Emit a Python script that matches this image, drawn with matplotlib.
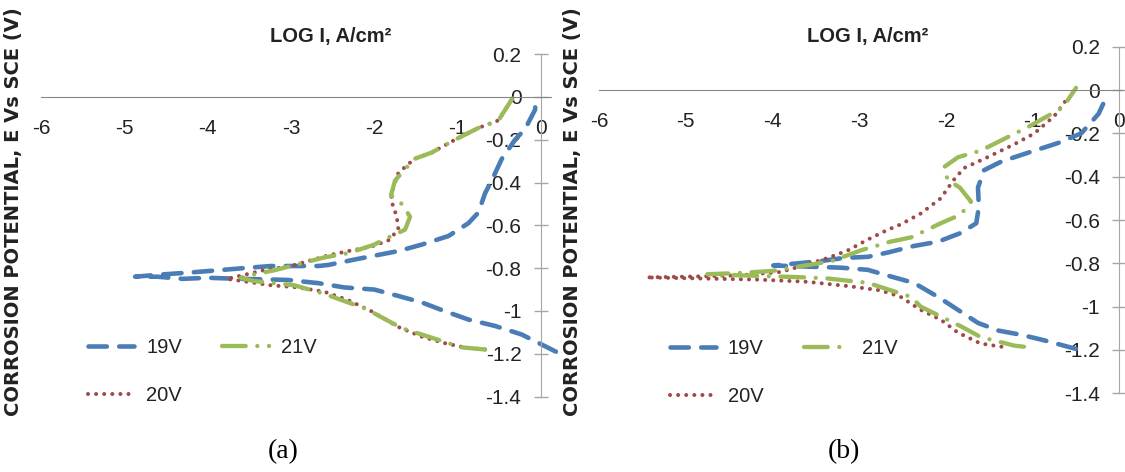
import matplotlib.pyplot as plt

# ---------------- data ----------------
# log I (A/cm2) and E vs SCE (V), each curve traced from the cathodic end
# (bottom right) through Ecorr to the anodic end (top right)

# panel (a)
a_19v_x = [0.18, -0.23, -0.55, -0.87, -1.16, -1.43, -1.71, -2.0, -2.36, -2.67, -3.04, -3.6, -4.0,
           -4.3, -4.6, -4.87, -4.57, -4.2, -3.88, -3.57, -3.24, -2.67, -2.55, -2.24, -1.71, -1.43,
           -1.11, -0.87, -0.75, -0.67, -0.59, -0.47, -0.31, -0.19, -0.07, -0.06]
a_19v_y = [-1.19, -1.11, -1.07, -1.04, -1.0, -0.96, -0.93, -0.90, -0.89, -0.87, -0.855, -0.85, -0.845,
           -0.85, -0.84, -0.84, -0.83, -0.82, -0.81, -0.80, -0.79, -0.79, -0.785, -0.76, -0.72, -0.69,
           -0.65, -0.59, -0.54, -0.45, -0.39, -0.29, -0.20, -0.15, -0.06, 0.0]

a_20v_x = [-0.67, -0.92, -1.16, -1.43, -1.71, -2.04, -2.31, -2.6, -2.92, -3.24, -3.5, -3.77, -3.6,
           -3.33, -3.0, -2.55, -2.31, -2.04, -1.83, -1.71, -1.73, -1.80, -1.77, -1.71, -1.52, -1.31,
           -1.03, -0.75, -0.51, -0.33]
a_20v_y = [-1.18, -1.17, -1.15, -1.12, -1.075, -1.0, -0.95, -0.91, -0.89, -0.88, -0.865, -0.85, -0.835,
           -0.81, -0.79, -0.74, -0.72, -0.70, -0.67, -0.62, -0.56, -0.48, -0.42, -0.355, -0.29, -0.26,
           -0.20, -0.145, -0.11, 0.0]

a_21v_x = [-0.67, -0.95, -1.35, -1.67, -2.1, -2.6, -2.96, -3.2, -3.45, -3.6, -3.45, -3.2, -3.0, -2.6,
           -2.31, -2.0, -1.85, -1.63, -1.57, -1.67, -1.80, -1.75, -1.52, -1.31, -1.03, -0.75, -0.51, -0.33]
a_21v_y = [-1.18, -1.17, -1.12, -1.08, -0.99, -0.92, -0.88, -0.87, -0.86, -0.845, -0.83, -0.81, -0.79,
           -0.75, -0.73, -0.69, -0.66, -0.62, -0.56, -0.50, -0.46, -0.39, -0.29, -0.26, -0.20, -0.145,
           -0.11, 0.0]

# panel (b)
b_19v_x = [-0.5, -0.87, -1.13, -1.40, -1.63, -1.86, -2.09, -2.37, -2.64, -2.9, -3.21, -3.6, -3.99,
           -3.71, -3.45, -3.18, -2.90, -2.67, -2.37, -2.09, -1.83, -1.65, -1.62, -1.63, -1.56, -1.36,
           -1.02, -0.71, -0.44, -0.24, -0.13]
b_19v_y = [-1.195, -1.155, -1.13, -1.11, -1.075, -1.015, -0.955, -0.89, -0.86, -0.83, -0.82, -0.815,
           -0.81, -0.80, -0.79, -0.775, -0.77, -0.75, -0.72, -0.70, -0.66, -0.615, -0.54, -0.45, -0.37,
           -0.33, -0.285, -0.245, -0.20, -0.11, -0.015]

b_20v_x = [-1.36, -1.60, -1.86, -2.06, -2.29, -2.52, -2.75, -3.13, -3.6, -4.17, -4.83, -5.45, -4.83,
           -4.37, -3.91, -3.64, -3.36, -3.13, -2.90, -2.67, -2.52, -2.29, -2.06, -1.91, -1.79, -1.52,
           -1.21, -0.98, -0.75, -0.62]
b_20v_y = [-1.185, -1.17, -1.12, -1.06, -1.015, -0.955, -0.925, -0.905, -0.885, -0.875, -0.87, -0.865,
           -0.86, -0.855, -0.84, -0.81, -0.775, -0.74, -0.69, -0.645, -0.62, -0.57, -0.50, -0.415, -0.36,
           -0.31, -0.25, -0.20, -0.12, -0.05]

b_21v_x = [-1.10, -1.21, -1.60, -1.83, -2.29, -2.40, -2.90, -3.36, -3.6, -4.0, -4.4, -4.75, -4.4, -4.0,
           -3.78, -3.32, -2.98, -2.64, -2.40, -2.06, -1.83, -1.71, -1.84, -1.98, -2.02, -1.86, -1.60,
           -1.05, -0.65, -0.5]
b_21v_y = [-1.185, -1.18, -1.14, -1.09, -1.0, -0.955, -0.89, -0.87, -0.865, -0.86, -0.855, -0.85,
           -0.845, -0.835, -0.82, -0.79, -0.74, -0.70, -0.68, -0.615, -0.575, -0.515, -0.45, -0.415,
           -0.355, -0.31, -0.28, -0.17, -0.08, 0.01]

x_ticks = [-6, -5, -4, -3, -2, -1, 0]
y_ticks = [0.2, 0, -0.2, -0.4, -0.6, -0.8, -1, -1.2, -1.4]
series_names = ['19V', '20V', '21V']

# ---------------- style ----------------
narrow = ['Liberation Sans', 'DejaVu Sans']
c_blue = '#4A7DB5'
c_red = '#9E4A48'
c_green = '#9BBB59'
style_19 = dict(color=c_blue, lw=3.3, linestyle=(0, (4.0, 2.7)), dash_capstyle='round')
style_20 = dict(color=c_red, lw=2.9, linestyle=(0, (0.01, 2.0)), dash_capstyle='round')
style_21 = dict(color=c_green, lw=3.1, linestyle=(0, (5.5, 2.7, 0.01, 2.7)), dash_capstyle='round')

fig = plt.figure(figsize=(11.25, 4.72), dpi=100)


def draw_panel(rect, xmax, data, title_x, ylab_x, cap_x, cap, leg_xy):
    ax = fig.add_axes(rect)
    ax.set_xlim(-6, xmax)
    ax.set_ylim(-1.4, 0.2)
    (x19, y19), (x20, y20), (x21, y21) = data
    l19, = ax.plot(x19, y19, clip_on=False, **style_19)
    l20, = ax.plot(x20, y20, clip_on=False, **style_20)
    l21, = ax.plot(x21, y21, clip_on=False, **style_21)

    # axes cross at (0, 0), like the Excel chart
    for s in ['top', 'right']:
        ax.spines[s].set_visible(False)
    ax.spines['left'].set_position(('data', 0))
    ax.spines['bottom'].set_position(('data', 0))
    ax.spines['left'].set_color('#a6a6a6')
    ax.spines['bottom'].set_color('#868686')
    ax.set_xticks(x_ticks)
    ax.set_xticklabels([str(v) for v in x_ticks], family=narrow, fontsize=15)
    ax.set_yticks(y_ticks)
    ax.set_yticklabels([f'{v:g}' for v in y_ticks], family=narrow, fontsize=15)
    ax.tick_params(axis='x', length=0, pad=16, colors='#222222')
    ax.tick_params(axis='y', direction='inout', length=10, width=1, pad=9,
                   color='#a6a6a6', labelcolor='#222222')

    leg = ax.legend([l19, l20, l21], series_names, ncol=2, loc='upper left',
                    bbox_to_anchor=leg_xy, frameon=False,
                    prop={'family': narrow, 'size': 14.5}, handlelength=2.3,
                    handletextpad=0.6, columnspacing=2.0, labelspacing=1.45,
                    borderpad=0, borderaxespad=0)
    for t in leg.get_texts():
        t.set_color('#222222')

    fig.text(title_x, 0.922, 'LOG I, A/cm²', family=narrow, fontsize=14.5,
             weight='bold', ha='center', va='center', color='#222222')
    fig.text(ylab_x, 0.552, 'CORROSION POTENTIAL, E Vs SCE (V)', rotation=90,
             family='DejaVu Sans', weight='bold', fontsize=14,
             ha='center', va='center', color='#222222')
    fig.text(cap_x, 0.044, cap, family='Liberation Serif', fontsize=20,
             ha='center', va='center', color='black')
    return ax


draw_panel([0.0364, 0.1597, 0.4533, 0.7258], 0.12,
           [(a_19v_x, a_19v_y), (a_20v_x, a_20v_y), (a_21v_x, a_21v_y)],
           0.294, 0.012, 0.252, '(a)', (0.092, 0.172))
draw_panel([0.5324, 0.1667, 0.4649, 0.7343], 0.03,
           [(b_19v_x, b_19v_y), (b_20v_x, b_20v_y), (b_21v_x, b_21v_y)],
           0.771, 0.509, 0.750, '(b)', (0.135, 0.158))

plt.savefig('out.png', dpi=100)
